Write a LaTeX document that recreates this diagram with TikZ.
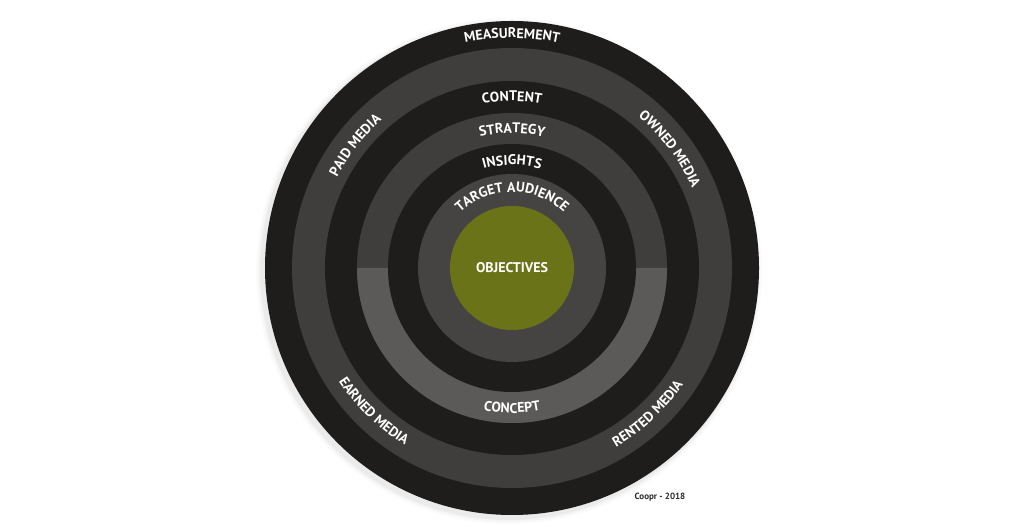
\documentclass[tikz,border=0pt]{standalone}
\usepackage{fontspec}
\setmainfont{PT Sans}
\newfontfamily\lblfont{PT Sans Bold}
\usetikzlibrary{decorations.text}
\definecolor{ringblack}{HTML}{1E1D1B}
\definecolor{ringgray}{HTML}{3F3E3C}
\definecolor{ringlight}{HTML}{5B5A58}
\definecolor{ringinner}{HTML}{454442}
\definecolor{olivefill}{HTML}{6B7318}
\definecolor{credittext}{HTML}{2A2A2A}
\newcommand\lblbig{\lblfont\fontsize{14}{16}\selectfont}
\begin{document}
\begin{tikzpicture}[x=1pt,y=1pt,
  arclabel/.style={decorate, decoration={text along path, text align=center, text color=white}},
]
\useasboundingbox (0,0) rectangle (1024,527);
\fill[white] (0,0) rectangle (1024,527);
\begin{scope}[shift={(512,259)}]
  % soft shadow
  \foreach \r/\o in {253/0.015,251/0.025,249/0.04}
    \fill[black,opacity=\o] (-3,-3) circle (\r);
  % rings
  \fill[ringblack] (0,0) circle (247);
  \fill[ringgray] (0,0) circle (220);
  \fill[ringblack] (0,0) circle (187);
  \fill[ringgray] (0,0) circle (155);
  \fill[ringlight] (-155,0) arc[start angle=180,end angle=360,radius=155] -- cycle;
  \fill[ringblack] (0,0) circle (124);
  \fill[ringinner] (0,0) circle (94);
  \node[circle, fill=olivefill, minimum size=124pt, inner sep=0pt, text=white,
        font=\lblbig] (obj) at (0,0) {OBJECTIVES};
  % ring labels (top, clockwise)
  \path[arclabel, decoration={text={|\lblbig|MEASUREMENT}}]
    (120:230) arc[start angle=120, end angle=60, radius=230];
  \path[arclabel, decoration={text={|\lblbig|CONTENT}}]
    (120:167) arc[start angle=120, end angle=60, radius=167];
  \path[arclabel, decoration={text={|\lblbig|STRATEGY}}]
    (125:135) arc[start angle=125, end angle=55, radius=135];
  \path[arclabel, decoration={text={|\lblbig|INSIGHTS}}]
    (135:103) arc[start angle=135, end angle=45, radius=103];
  \path[arclabel, decoration={text={|\lblbig|TARGET AUDIENCE}}]
    (178:76) arc[start angle=178, end angle=2, radius=76];
  \path[arclabel, decoration={text={|\lblbig|PAID MEDIA}}]
    (172:197) arc[start angle=172, end angle=112, radius=197];
  \path[arclabel, decoration={text={|\lblbig|OWNED MEDIA}}]
    (67:197) arc[start angle=67, end angle=7, radius=197];
  % ring labels (bottom, counter-clockwise)
  \path[arclabel, decoration={text={|\lblbig|EARNED MEDIA}}]
    (196:207) arc[start angle=196, end angle=256, radius=207];
  \path[arclabel, decoration={text={|\lblbig|RENTED MEDIA}}]
    (283:207) arc[start angle=283, end angle=343, radius=207];
  \path[arclabel, decoration={text={|\lblbig|CONCEPT}}]
    (240:145) arc[start angle=240, end angle=300, radius=145];
\end{scope}
\node[text=credittext, font=\lblfont\fontsize{9}{10}\selectfont] (credit) at (660,30) {Coopr - 2018};
\end{tikzpicture}
\end{document}
